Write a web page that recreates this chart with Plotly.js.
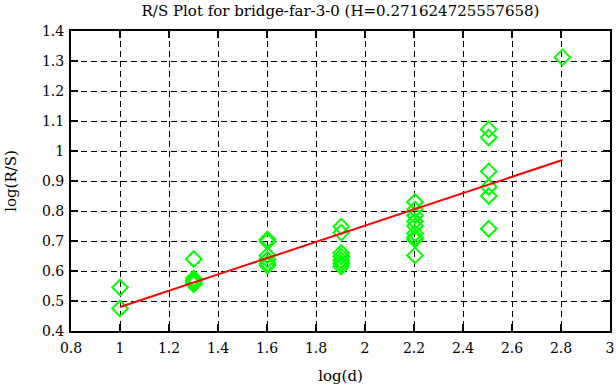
<!DOCTYPE html>
<html>
<head>
<meta charset="utf-8">
<script src="https://cdn.plot.ly/plotly-3.0.1.min.js"></script>
<style>html,body{margin:0;padding:0;background:#fff;}#chart{width:616px;height:387px;}</style>
</head>
<body>
<div id="chart"></div>
<script>
// R/S data (log10 of block size d, log10 of R/S)
const logD = [
  1.0, 1.0,
  1.301, 1.301, 1.301, 1.301, 1.301,
  1.602, 1.602, 1.602, 1.602, 1.602, 1.602,
  1.903, 1.903, 1.903, 1.903, 1.903, 1.903, 1.903,
  2.204, 2.204, 2.204, 2.204, 2.204, 2.204, 2.204, 2.204, 2.204,
  2.505, 2.505, 2.505, 2.505, 2.505, 2.505,
  2.806
];
const logRS = [
  0.545, 0.475,
  0.64, 0.575, 0.568, 0.562, 0.556,
  0.705, 0.698, 0.652, 0.638, 0.625, 0.618,
  0.748, 0.728, 0.660, 0.648, 0.636, 0.625, 0.615,
  0.830, 0.805, 0.785, 0.765, 0.750, 0.725, 0.712, 0.705, 0.652,
  1.072, 1.045, 0.932, 0.880, 0.850, 0.741,
  1.312
];
// fitted line endpoints
const fitX = [1.0, 2.806];
const fitY = [0.48, 0.97];
const xTicks = [0.8, 1, 1.2, 1.4, 1.6, 1.8, 2, 2.2, 2.4, 2.6, 2.8, 3];
const yTicks = [0.4, 0.5, 0.6, 0.7, 0.8, 0.9, 1, 1.1, 1.2, 1.3, 1.4];

const font = {family: 'DejaVu Serif, Liberation Serif, serif', size: 15, color: '#000'};
const tickFont = {family: 'DejaVu Serif, Liberation Serif, serif', size: 14, color: '#000'};

const traces = [
  {
    x: logD, y: logRS, type: 'scatter', mode: 'markers',
    marker: {symbol: 'diamond-open', size: 12, color: '#00ff00', line: {width: 2, color: '#00ff00'}},
    hoverinfo: 'skip', cliponaxis: false
  },
  {
    x: fitX, y: fitY, type: 'scatter', mode: 'lines',
    line: {color: '#ff0000', width: 2}, hoverinfo: 'skip'
  }
];

const axisCommon = {
  showline: true, linecolor: '#000', linewidth: 2, mirror: 'ticks',
  ticks: 'inside', ticklen: 7, tickcolor: '#000', tickwidth: 2,
  showgrid: true, gridcolor: '#000', gridwidth: 1, griddash: '6px,4px',
  zeroline: false, tickfont: tickFont
};

const layout = {
  width: 616, height: 387,
  margin: {l: 71, r: 6, t: 31, b: 56},
  paper_bgcolor: '#fff', plot_bgcolor: '#fff',
  showlegend: false,
  font: font,
  title: {text: 'R/S Plot for bridge-far-3-0 (H=0.271624725557658)', font: font, xref: 'paper', x: 0.5, xanchor: 'center', y: 0.985, yanchor: 'top'},
  xaxis: Object.assign({}, axisCommon, {
    range: [0.8, 3], tickvals: xTicks, ticktext: xTicks.map(String),
    ticklabelstandoff: 3,
    title: {text: 'log(d)', font: font, standoff: 16}
  }),
  yaxis: Object.assign({}, axisCommon, {
    range: [0.4, 1.4], tickvals: yTicks, ticktext: yTicks.map(String),
    ticklabelstandoff: 2,
    title: {text: 'log(R/S)', font: font, standoff: 22}
  })
};

Plotly.newPlot('chart', traces, layout, {staticPlot: true, displayModeBar: false});
</script>
</body>
</html>
